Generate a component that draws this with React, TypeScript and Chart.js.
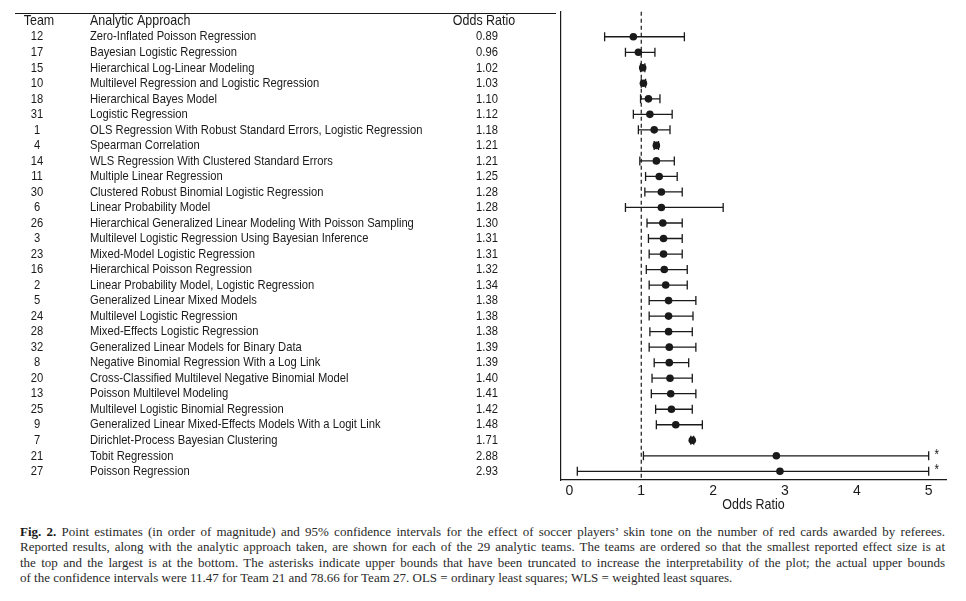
import React, { useEffect, useRef } from "react";
import { Chart, registerables } from "chart.js";

Chart.register(...registerables);

const teams = [12, 17, 15, 10, 18, 31, 1, 4, 14, 11, 30, 6, 26, 3, 23, 16, 2, 5, 24, 28, 32, 8, 20, 13, 25, 9, 7, 21, 27];

const approaches = [
  "Zero-Inflated Poisson Regression",
  "Bayesian Logistic Regression",
  "Hierarchical Log-Linear Modeling",
  "Multilevel Regression and Logistic Regression",
  "Hierarchical Bayes Model",
  "Logistic Regression",
  "OLS Regression With Robust Standard Errors, Logistic Regression",
  "Spearman Correlation",
  "WLS Regression With Clustered Standard Errors",
  "Multiple Linear Regression",
  "Clustered Robust Binomial Logistic Regression",
  "Linear Probability Model",
  "Hierarchical Generalized Linear Modeling With Poisson Sampling",
  "Multilevel Logistic Regression Using Bayesian Inference",
  "Mixed-Model Logistic Regression",
  "Hierarchical Poisson Regression",
  "Linear Probability Model, Logistic Regression",
  "Generalized Linear Mixed Models",
  "Multilevel Logistic Regression",
  "Mixed-Effects Logistic Regression",
  "Generalized Linear Models for Binary Data",
  "Negative Binomial Regression With a Log Link",
  "Cross-Classified Multilevel Negative Binomial Model",
  "Poisson Multilevel Modeling",
  "Multilevel Logistic Binomial Regression",
  "Generalized Linear Mixed-Effects Models With a Logit Link",
  "Dirichlet-Process Bayesian Clustering",
  "Tobit Regression",
  "Poisson Regression",
];

const oddsRatios = [0.89, 0.96, 1.02, 1.03, 1.10, 1.12, 1.18, 1.21, 1.21, 1.25, 1.28, 1.28, 1.30, 1.31, 1.31, 1.32, 1.34, 1.38, 1.38, 1.38, 1.39, 1.39, 1.40, 1.41, 1.42, 1.48, 1.71, 2.88, 2.93];

const ciLower = [0.49, 0.78, 0.99, 1.00, 0.99, 0.89, 0.96, 1.18, 0.98, 1.06, 1.05, 0.78, 1.08, 1.10, 1.11, 1.07, 1.11, 1.11, 1.11, 1.12, 1.11, 1.18, 1.15, 1.14, 1.20, 1.21, 1.69, 1.03, 0.11];

const ciUpper = [1.60, 1.19, 1.05, 1.06, 1.26, 1.43, 1.40, 1.24, 1.46, 1.50, 1.57, 2.14, 1.57, 1.57, 1.57, 1.64, 1.64, 1.76, 1.72, 1.71, 1.76, 1.66, 1.71, 1.76, 1.71, 1.85, 1.73, 11.47, 78.66];

const truncateAt = 5;
const referenceLine = 1;
const xTicks = [0, 1, 2, 3, 4, 5];
const tableHeaders = ["Team", "Analytic Approach", "Odds Ratio"];
const axisTitle = "Odds Ratio";

const captionLines = [
  "Point estimates (in order of magnitude) and 95% confidence intervals for the effect of soccer players\u2019 skin tone on the number of red cards awarded by referees.",
  "Reported results, along with the analytic approach taken, are shown for each of the 29 analytic teams. The teams are ordered so that the smallest reported effect size is at",
  "the top and the largest is at the bottom. The asterisks indicate upper bounds that have been truncated to increase the interpretability of the plot; the actual upper bounds",
  "of the confidence intervals were 11.47 for Team 21 and 78.66 for Team 27. OLS = ordinary least squares; WLS = weighted least squares.",
];

const SANS = '"Liberation Sans", Arial, sans-serif';
const INK = "#1a1a1a";
const NARROW_SCALE = 0.83;

function drawNarrow(ctx: CanvasRenderingContext2D, text: string, x: number, y: number, align: "left" | "center" | "right") {
  const w = ctx.measureText(text).width * NARROW_SCALE;
  const left = align === "center" ? x - w / 2 : align === "right" ? x - w : x;
  ctx.save();
  ctx.translate(left, y);
  ctx.scale(NARROW_SCALE, 1);
  ctx.textAlign = "left";
  ctx.fillText(text, 0, 0);
  ctx.restore();
}

const forestPlugin = {
  id: "forest",
  beforeDatasetsDraw(chart: any) {
    const { ctx, chartArea, scales } = chart;
    const x = scales.x;
    const y = scales.y;
    ctx.save();
    const rx = x.getPixelForValue(referenceLine);
    ctx.strokeStyle = INK;
    ctx.lineWidth = 1.2;
    ctx.setLineDash([4, 3]);
    ctx.beginPath();
    ctx.moveTo(rx, chartArea.top);
    ctx.lineTo(rx, chartArea.bottom);
    ctx.stroke();
    ctx.setLineDash([]);
    ctx.lineWidth = 1.3;
    ctx.fillStyle = INK;
    ctx.font = `14px ${SANS}`;
    ctx.textBaseline = "middle";
    for (let i = 0; i < oddsRatios.length; i++) {
      const py = y.getPixelForValue(i);
      const lo = x.getPixelForValue(ciLower[i]);
      const hi = x.getPixelForValue(Math.min(ciUpper[i], truncateAt));
      ctx.beginPath();
      ctx.moveTo(lo, py);
      ctx.lineTo(hi, py);
      ctx.moveTo(lo, py - 4.5);
      ctx.lineTo(lo, py + 4.5);
      ctx.moveTo(hi, py - 4.5);
      ctx.lineTo(hi, py + 4.5);
      ctx.stroke();
      if (ciUpper[i] > truncateAt) {
        drawNarrow(ctx, "*", hi + 8, py - 1, "center");
      }
    }
    ctx.restore();
  },
  afterDraw(chart: any) {
    const { ctx, scales, chartArea } = chart;
    const y = scales.y;
    ctx.save();
    ctx.fillStyle = INK;
    ctx.textBaseline = "middle";
    // header
    const hy = y.getPixelForValue(-1);
    ctx.font = `15px ${SANS}`;
    drawNarrow(ctx, tableHeaders[0], 31, hy, "center");
    drawNarrow(ctx, tableHeaders[1], 82, hy, "left");
    drawNarrow(ctx, tableHeaders[2], 476, hy, "center");
    // rule
    const ry = y.getPixelForValue(-1.5);
    ctx.strokeStyle = INK;
    ctx.lineWidth = 1.2;
    ctx.beginPath();
    ctx.moveTo(7, ry);
    ctx.lineTo(548, ry);
    ctx.stroke();
    // rows
    ctx.font = `13.5px ${SANS}`;
    for (let i = 0; i < teams.length; i++) {
      const py = y.getPixelForValue(i);
      drawNarrow(ctx, String(teams[i]), 29, py, "center");
      drawNarrow(ctx, approaches[i], 82, py, "left");
      drawNarrow(ctx, oddsRatios[i].toFixed(2), 479, py, "center");
    }
    // axis title
    ctx.font = `15px ${SANS}`;
    drawNarrow(ctx, axisTitle, (chartArea.left + chartArea.right) / 2, chartArea.bottom + 25, "center");
    ctx.restore();
  },
};

export default function App() {
  const canvasRef = useRef<HTMLCanvasElement | null>(null);

  useEffect(() => {
    if (!canvasRef.current) return;
    const chart = new Chart(canvasRef.current, {
      type: "scatter",
      data: {
        datasets: [
          {
            data: oddsRatios.map((v, i) => ({ x: v, y: i })),
            backgroundColor: INK,
            borderColor: INK,
            pointRadius: 3.8,
            pointHoverRadius: 3.8,
            borderWidth: 0,
          },
        ],
      },
      options: {
        animation: false,
        responsive: false,
        maintainAspectRatio: false,
        layout: { padding: { left: 553, right: 12, top: 3, bottom: 0 } },
        plugins: { legend: { display: false }, tooltip: { enabled: false } },
        scales: {
          x: {
            type: "linear",
            min: -0.117,
            max: 5.241,
            afterBuildTicks: (s: any) => {
              s.ticks = xTicks.map((v) => ({ value: v }));
            },
            afterFit: (s: any) => {
              s.height = 36;
            },
            grid: { display: false, drawTicks: false },
            border: { display: true, color: INK, width: 1.2 },
            ticks: { font: { family: SANS, size: 14 }, color: INK, padding: 3, maxRotation: 0 },
            title: { display: false },
          },
          y: {
            type: "linear",
            reverse: true,
            min: -1.608,
            max: 28.56,
            afterFit: (s: any) => {
              s.width = 0;
            },
            ticks: { display: false },
            grid: { display: false, drawTicks: false },
            border: { display: true, color: INK, width: 1.2 },
          },
        },
      },
      plugins: [forestPlugin],
    });
    return () => chart.destroy();
  }, []);

  return (
    <div>
      <canvas ref={canvasRef} width={950} height={508} style={{ display: "block" }} />
      <div
        style={{
          marginTop: 8,
          marginLeft: 12,
          width: 925,
          fontFamily: '"Liberation Serif", "Times New Roman", serif',
          fontSize: 13,
          lineHeight: "15.3px",
          color: "#2a2a2a",
        }}
      >
        {captionLines.map((line, i) => (
          <div
            key={i}
            style={{
              textAlign: i < captionLines.length - 1 ? "justify" : "left",
              textAlignLast: i < captionLines.length - 1 ? "justify" : "left",
            }}
          >
            {i === 0 ? <b style={{ color: "#1a1a1a" }}>Fig. 2. </b> : null}
            {line}
          </div>
        ))}
      </div>
    </div>
  );
}
